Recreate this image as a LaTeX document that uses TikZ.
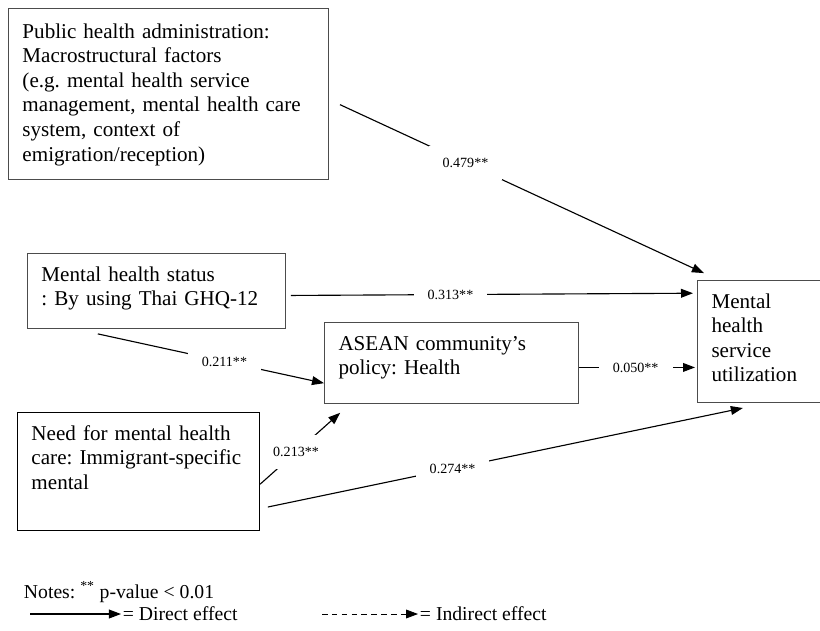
\documentclass[tikz,border=0pt]{standalone}
\usepackage{fontspec}
\setmainfont{Liberation Serif}
\frenchspacing
\usetikzlibrary{arrows.meta}

\tikzset{
  box/.style={draw=black!70, line width=0.7pt, anchor=north west, align=left,
    inner xsep=0.35cm, inner ysep=0pt, text height=19.6pt,
    font=\fontsize{15}{17.5}\selectfont},
  coef/.style={fill=white, inner xsep=0.35cm, inner ysep=0.3cm,
    font=\fontsize{10}{12}\selectfont},
  note/.style={anchor=west, inner sep=1pt, font=\fontsize{14}{16}\selectfont}
}

\begin{document}
\begin{tikzpicture}[x=0.025cm, y=-0.025cm, line width=0.8pt,
    >={Triangle[length=0.3cm, width=0.22cm]}]
  \useasboundingbox (0,0) rectangle (820,630);

  % boxes
  \node[box, text width=7.3cm, text height=21pt, text depth=100.6pt] (pub) at (8,8)
    {Public health administration:\\ Macrostructural factors\\ (e.g. mental health service\\
     management, mental health care\\ system, context of\\ emigration/reception)};
  \node[box, text width=5.75cm, text depth=33.7pt] (ms) at (27,253)
    {Mental health status\\ : By using Thai GHQ-12};
  \node[box, text width=5.65cm, text depth=38pt] (asean) at (324,322)
    {ASEAN community’s\\ policy: Health};
  \node[box, draw=black, text width=5.35cm, text depth=64.3pt] (bn) at (17,412)
    {Need for mental health\\ care: Immigrant-specific\\ mental};
  \node[box, text width=2.6cm, text depth=67.2pt] (util) at (697,280)
    {Mental\\ health\\ service\\ utilization};

  % paths
  \draw[->, shorten <=0.3cm, shorten >=0.41cm] (pub.-2)
    -- node [coef, pos=0.35] {0.479**} (util.126);
  \draw[->, shorten <=0.12cm, shorten >=0.1cm] (ms.-2)
    -- node [coef, pos=0.4] {0.313**} (util.144);
  \draw[->, shorten <=0.58cm] (ms.205)
    -- node [coef, pos=0.6] {0.211**} (asean.189);
  \draw[->, shorten >=0.33cm] (bn.-6)
    -- node [coef, inner xsep=1pt, pos=0.4] {0.213**} (asean.202);
  \draw[->, shorten <=0.2cm, shorten >=0.61cm] (bn.-17)
    -- node [coef, pos=0.38] {0.274**} (util.-87);
  \draw[->, shorten >=0.05cm] (asean.-2)
    -- node [coef, pos=0.48] {0.050**} (asean.-2 -| util.west);

  % legend
  \node[note] (notes) at (22,592) {Notes: \textsuperscript{**} p-value < 0.01};
  \node[note] (dir) at (121,614) {= Direct effect};
  \node[note] (ind) at (418,614) {= Indirect effect};
  \coordinate (dirs) at (30,614);
  \coordinate (inds) at (322,614);
  \draw[->] (dirs) -- (dir.west);
  \draw[->, line width=0.6pt, dash pattern=on 4pt off 3pt] (inds) -- (ind.west);
\end{tikzpicture}
\end{document}
